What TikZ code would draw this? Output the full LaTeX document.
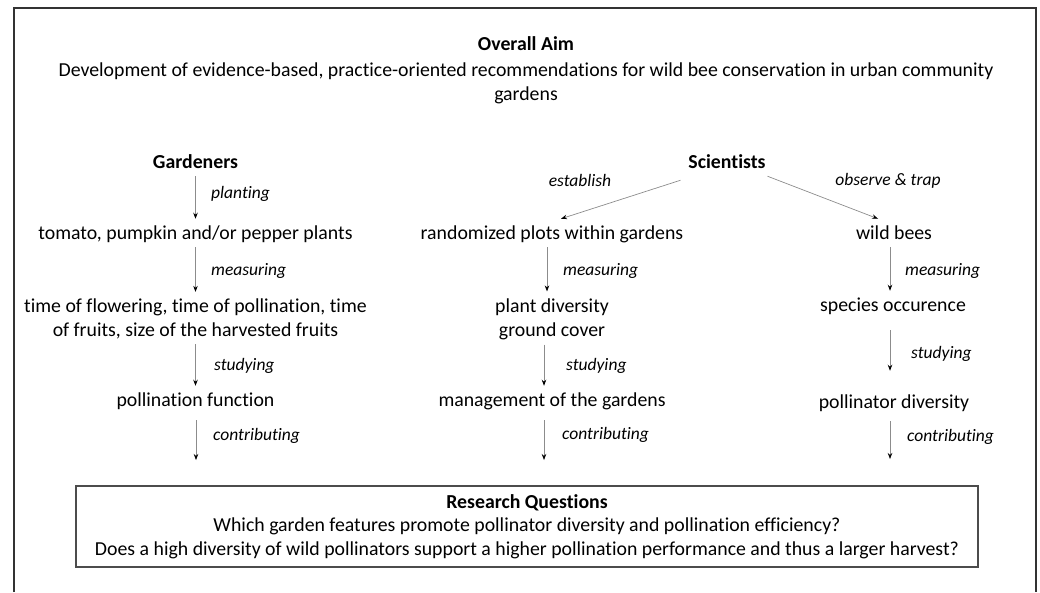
\documentclass[tikz,border=0pt]{standalone}
\usepackage{fontspec}
\setmainfont{Carlito}[Ligatures={NoCommon}]
\usetikzlibrary{arrows.meta}

\tikzset{
    txt/.style={font=\fontsize{19.8}{24}\selectfont, text height=16pt, text depth=2.5pt, inner sep=1pt, outer sep=4pt},
    head/.style={txt, font=\fontsize{19.8}{24}\selectfont\bfseries},
    txttwo/.style={font=\fontsize{19.8}{24}\selectfont, align=center, inner sep=1pt, outer sep=4pt},
    lbl/.style={font=\fontsize{17.5}{21}\selectfont\itshape, text height=14pt, text depth=2pt, inner sep=0pt},
    arr/.style={draw=black!45, line width=0.7pt, -{Stealth[length=6pt,width=4.5pt,color=black]}},
}

\begin{document}
\begin{tikzpicture}[x=1pt, y=-1pt]
    \useasboundingbox (0,0) rectangle (1040,592);
    % Frame, open at the bottom
    \draw[black!80, line width=1.2pt] (14,592) -- (14,8) -- (1036,8) -- (1036,592);

    % Overall aim
    \node[head] (aim) at (526,44) {Overall Aim};
    \node[txttwo] (aimtext) at (526,83) {Development of evidence-based, practice-oriented recommendations for wild bee conservation in urban community\\gardens};

    % Gardeners
    \node[head] (gard) at (195.5,162) {Gardeners};
    \node[txt] (tom) at (195.5,233) {tomato, pumpkin and/or pepper plants};
    \node[txttwo] (time) at (195.5,319) {time of flowering, time of pollination, time\\of fruits, size of the harvested fruits};
    \node[txt] (pfunc) at (195.5,400) {pollination function};
    \coordinate (gend) at (196,460);

    \draw[arr] (gard.south) -- (gard.south |- tom.north);
    \draw[arr, shorten >=2pt] (tom.south) -- (tom.south |- time.north);
    \draw[arr] (time.south) -- (time.south |- pfunc.north);
    \draw[arr, shorten <=6pt] (pfunc.south -| gend) -- (gend);

    \node[lbl, anchor=west] (lplant) at (211,192) {planting};
    \node[lbl, anchor=west] (lmeas1) at (211,269) {measuring};
    \node[lbl, anchor=west] (lstud1) at (214,364) {studying};
    \node[lbl, anchor=west] (lcont1) at (213,434) {contributing};

    % Scientists
    \node[head] (sci) at (727,162) {Scientists};
    \node[txt] (rand) at (552,233) {randomized plots within gardens};
    \node[txttwo] (plant) at (552,319) {plant diversity\\ground cover};
    \node[txt] (manag) at (552,400) {management of the gardens};
    \coordinate (mend) at (544,460);

    \node[txt] (bees) at (894,233) {wild bees};
    \node[txt] (spec) at (893,305) {species occurence};
    \node[txt] (pdiv) at (894,402) {pollinator diversity};
    \coordinate (rend) at (890,459);

    \draw[arr] ([shift={(-3pt,-4pt)}]sci.south west) -- ([xshift=9pt]rand.north);
    \draw[arr] ([shift={(-3pt,0pt)}]sci.south east) -- ([xshift=-16pt]bees.north);

    \draw[arr, shorten >=2pt] ([xshift=-5pt]rand.south) -- ([xshift=-5pt]rand.south |- plant.north);
    \draw[arr] ([xshift=-8pt]plant.south) -- ([xshift=-8pt]plant.south |- manag.north);
    \draw[arr, shorten <=6pt] (manag.south -| mend) -- (mend);

    \draw[arr] (bees.south -| rend) -- (spec.north -| rend);
    \draw[arr, shorten <=11pt, shorten >=17pt] (spec.south -| rend) -- (pdiv.north -| rend);
    \draw[arr, shorten <=5pt] (pdiv.south -| rend) -- (rend);

    \node[lbl] (lest) at (580,180) {establish};
    \node[lbl] (lobs) at (888,179) {observe \& trap};
    \node[lbl, anchor=west] (lmeas2) at (563,269) {measuring};
    \node[lbl, anchor=west] (lstud2) at (566,364) {studying};
    \node[lbl, anchor=west] (lcont2) at (562,433) {contributing};
    \node[lbl, anchor=west] (lmeas3) at (905,269) {measuring};
    \node[lbl, anchor=west] (lstud3) at (911,352) {studying};
    \node[lbl, anchor=west] (lcont3) at (907,435) {contributing};

    % Research questions
    \node[draw=black!70, line width=1.2pt, align=center, minimum width=902pt, minimum height=81pt, inner sep=0pt,
          font=\fontsize{19.8}{23.5}\selectfont] (rq) at (527,526.5)
        {\textbf{Research Questions}\\
         Which garden features promote pollinator diversity and pollination efficiency?\\
         Does a high diversity of wild pollinators support a higher pollination performance and thus a larger harvest?};
\end{tikzpicture}
\end{document}
